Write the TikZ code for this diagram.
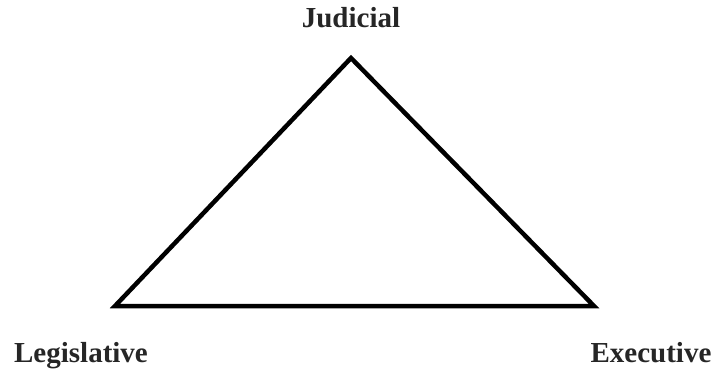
\documentclass[tikz,border=0pt]{standalone}
\usepackage{fontspec}
\setmainfont{Liberation Serif}
\begin{document}
\begin{tikzpicture}[x=1pt,y=-1pt,
  lbl/.style={font=\bfseries\fontsize{29}{33}\selectfont, text=black!85, inner sep=0pt, anchor=base},
  edge/.style={line width=4.5pt, black}]
\useasboundingbox (0,0) rectangle (713,369);
\coordinate (J) at (351,58);
\coordinate (L) at (115,306);
\coordinate (E) at (594,306);
\draw[edge] (J) -- (E) -- (L) -- cycle;
\node[lbl] (jt) at (351,28) {Judicial};
\node[lbl] (lt) at (81,362) {Legislative};
\node[lbl] (et) at (651,362) {Executive};
\end{tikzpicture}
\end{document}
